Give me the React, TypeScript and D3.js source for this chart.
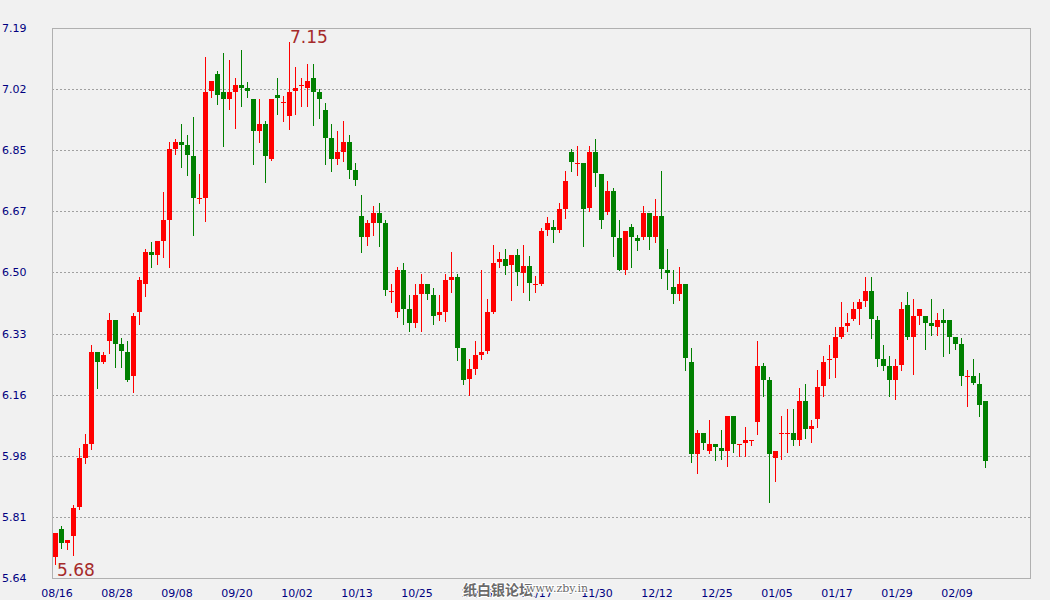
import React from "react";
import * as d3 from "d3";

// ---- data ----
const opens = [
  5.700, 5.778, 5.739, 5.759, 5.840, 5.979, 6.018, 6.277, 6.250, 6.309,
  6.367, 6.300, 6.277, 6.210, 6.390, 6.469, 6.559, 6.550, 6.591, 6.649,
  6.849, 6.869, 6.860, 6.829, 6.707, 6.711, 7.012, 7.060, 7.010, 6.990,
  7.010, 7.029, 7.021, 6.990, 6.900, 6.919, 6.821, 7.001, 6.978, 6.942,
  7.012, 7.027, 7.021, 7.049, 7.010, 6.959, 6.880, 6.821, 6.841, 6.869,
  6.790, 6.660, 6.601, 6.640, 6.669, 6.640, 6.446, 6.390, 6.508, 6.398,
  6.359, 6.440, 6.469, 6.438, 6.381, 6.390, 6.480, 6.488, 6.288, 6.201,
  6.229, 6.268, 6.280, 6.390, 6.530, 6.539, 6.522, 6.550, 6.500, 6.519,
  6.467, 6.469, 6.621, 6.629, 6.621, 6.680, 6.841, 6.807, 6.810, 6.683,
  6.841, 6.779, 6.671, 6.731, 6.598, 6.508, 6.629, 6.598, 6.601, 6.669,
  6.601, 6.660, 6.508, 6.460, 6.440, 6.469, 6.249, 5.989, 6.049, 5.998,
  6.018, 6.006, 5.998, 6.097, 6.015, 6.020, 6.027, 6.080, 6.237, 6.198,
  5.978, 6.046, 6.046, 6.049, 6.029, 6.139, 6.060, 6.088, 6.181, 6.255,
  6.260, 6.319, 6.350, 6.370, 6.398, 6.421, 6.449, 6.367, 6.257, 6.237,
  6.198, 6.240, 6.409, 6.319, 6.378, 6.378, 6.359, 6.347, 6.367, 6.367,
  6.319, 6.300, 6.207, 6.209, 6.187, 6.139,
];
const highs = [
  5.767, 5.787, 5.747, 5.846, 6.006, 6.046, 6.297, 6.277, 6.277, 6.387,
  6.367, 6.316, 6.308, 6.387, 6.488, 6.567, 6.587, 6.590, 6.728, 6.869,
  6.878, 6.919, 6.889, 6.939, 6.779, 7.108, 7.041, 7.069, 7.120, 7.100,
  7.049, 7.128, 7.038, 6.990, 6.990, 6.928, 6.990, 7.049, 6.998, 7.150,
  7.080, 7.049, 7.089, 7.089, 7.018, 6.979, 6.919, 6.900, 6.928, 6.889,
  6.810, 6.719, 6.649, 6.688, 6.697, 6.649, 6.469, 6.516, 6.528, 6.438,
  6.469, 6.497, 6.469, 6.457, 6.438, 6.497, 6.559, 6.497, 6.288, 6.257,
  6.308, 6.508, 6.426, 6.578, 6.559, 6.567, 6.550, 6.567, 6.578, 6.547,
  6.491, 6.626, 6.657, 6.649, 6.697, 6.787, 6.849, 6.857, 6.810, 6.857,
  6.877, 6.779, 6.759, 6.739, 6.649, 6.618, 6.637, 6.607, 6.688, 6.669,
  6.708, 6.787, 6.567, 6.508, 6.516, 6.469, 6.288, 6.057, 6.049, 6.085,
  6.018, 6.057, 6.097, 6.097, 6.017, 6.066, 6.029, 6.308, 6.246, 6.206,
  5.998, 6.097, 6.116, 6.116, 6.175, 6.187, 6.085, 6.226, 6.266, 6.297,
  6.347, 6.418, 6.387, 6.418, 6.426, 6.488, 6.488, 6.378, 6.297, 6.266,
  6.257, 6.418, 6.446, 6.426, 6.398, 6.378, 6.426, 6.387, 6.398, 6.367,
  6.319, 6.316, 6.226, 6.257, 6.218, 6.139,
];
const lows = [
  5.680, 5.725, 5.723, 5.705, 5.834, 5.965, 6.004, 6.176, 6.247, 6.275,
  6.236, 6.236, 6.196, 6.165, 6.356, 6.435, 6.516, 6.525, 6.546, 6.517,
  6.835, 6.799, 6.776, 6.607, 6.698, 6.646, 6.996, 6.977, 6.858, 6.961,
  6.908, 6.969, 6.996, 6.807, 6.869, 6.756, 6.818, 6.948, 6.928, 6.905,
  6.948, 6.969, 6.969, 6.917, 6.936, 6.807, 6.787, 6.807, 6.815, 6.767,
  6.748, 6.559, 6.578, 6.607, 6.576, 6.438, 6.418, 6.376, 6.356, 6.336,
  6.347, 6.336, 6.426, 6.356, 6.367, 6.364, 6.446, 6.254, 6.187, 6.156,
  6.215, 6.257, 6.274, 6.387, 6.516, 6.497, 6.423, 6.466, 6.446, 6.423,
  6.446, 6.466, 6.607, 6.587, 6.615, 6.654, 6.787, 6.776, 6.576, 6.674,
  6.745, 6.626, 6.666, 6.547, 6.508, 6.497, 6.516, 6.564, 6.595, 6.567,
  6.587, 6.485, 6.454, 6.415, 6.423, 6.226, 5.967, 5.936, 6.004, 5.992,
  5.973, 5.975, 5.956, 5.995, 5.984, 5.984, 6.015, 6.046, 6.153, 5.854,
  5.913, 5.975, 5.995, 6.015, 6.015, 6.035, 6.023, 6.066, 6.153, 6.204,
  6.206, 6.316, 6.336, 6.367, 6.356, 6.407, 6.316, 6.237, 6.226, 6.153,
  6.145, 6.226, 6.314, 6.215, 6.356, 6.285, 6.325, 6.325, 6.266, 6.274,
  6.285, 6.184, 6.125, 6.187, 6.097, 5.953,
];
const closes = [
  5.767, 5.739, 5.747, 5.837, 5.979, 6.018, 6.277, 6.250, 6.268, 6.367,
  6.300, 6.281, 6.199, 6.378, 6.480, 6.559, 6.550, 6.590, 6.649, 6.849,
  6.869, 6.860, 6.832, 6.711, 6.710, 7.010, 7.041, 7.001, 6.990, 7.010,
  7.029, 7.021, 7.012, 6.900, 6.919, 6.829, 6.990, 6.993, 6.981, 7.010,
  7.021, 7.029, 7.041, 7.010, 6.990, 6.880, 6.821, 6.841, 6.869, 6.790,
  6.762, 6.601, 6.640, 6.669, 6.640, 6.452, 6.448, 6.508, 6.398, 6.359,
  6.438, 6.469, 6.440, 6.378, 6.390, 6.480, 6.488, 6.288, 6.198, 6.229,
  6.268, 6.277, 6.390, 6.528, 6.539, 6.519, 6.550, 6.502, 6.519, 6.471,
  6.469, 6.618, 6.640, 6.621, 6.680, 6.759, 6.812, 6.809, 6.680, 6.841,
  6.781, 6.649, 6.731, 6.601, 6.508, 6.618, 6.601, 6.590, 6.669, 6.601,
  6.660, 6.511, 6.500, 6.440, 6.469, 6.260, 5.989, 6.049, 6.020, 6.018,
  6.009, 5.998, 6.097, 6.018, 6.017, 6.029, 6.029, 6.237, 6.198, 5.989,
  5.998, 6.048, 6.048, 6.029, 6.139, 6.060, 6.068, 6.178, 6.249, 6.257,
  6.319, 6.347, 6.359, 6.398, 6.418, 6.449, 6.370, 6.257, 6.237, 6.198,
  6.237, 6.398, 6.319, 6.378, 6.398, 6.359, 6.350, 6.367, 6.359, 6.319,
  6.300, 6.209, 6.209, 6.190, 6.128, 5.970,
];
// date labels, one every 10 candles starting at candle 0
const dateLabels = [
  "08/16", "08/28", "09/08", "09/20", "10/02", "10/13", "10/25", "11/06",
  "11/17", "11/30", "12/12", "12/25", "01/05", "01/17", "01/29", "02/09",
];
const labelEvery = 10;
const yMin = 5.64;
const yMax = 7.19;
const yTickCount = 10;

// ---- layout ----
const W = 1050;
const H = 600;
const plot = { left: 52, top: 28, right: 1030, bottom: 578 };

export default function App() {
  const n = closes.length;
  const x = d3.scaleLinear().domain([0, n - 1]).range([55, 55 + 6 * (n - 1)]);
  const y = d3.scaleLinear().domain([yMin, yMax]).range([plot.bottom, plot.top]);
  const yTicks = d3.range(yTickCount).map((k) => yMin + (k * (yMax - yMin)) / (yTickCount - 1));

  const maxIdx = d3.maxIndex(highs);
  const minIdx = d3.minIndex(lows);
  const font = "'DejaVu Sans', Verdana, sans-serif";

  return (
    <svg
      width={W}
      height={H}
      style={{ position: "absolute", left: 0, top: 0, display: "block", background: "#f1f1f1" }}
    >
      <rect x={0} y={0} width={W} height={H} fill="#f1f1f1" />
      {/* grid lines */}
      {yTicks.slice(1, -1).map((t, k) => (
        <line
          key={"g" + k}
          x1={plot.left}
          x2={plot.right}
          y1={Math.round(y(t)) + 0.5}
          y2={Math.round(y(t)) + 0.5}
          stroke="#a0a0a0"
          strokeDasharray="2,2"
        />
      ))}
      {/* plot border */}
      <rect
        x={plot.left + 0.5}
        y={plot.top + 0.5}
        width={plot.right - plot.left}
        height={plot.bottom - plot.top}
        fill="none"
        stroke="#b0b0b0"
      />
      {/* y labels */}
      {yTicks.map((t, k) => (
        <text
          key={"yl" + k}
          x={2}
          y={y(t) + 4}
          fontFamily={font}
          fontSize={11}
          fill="#000080"
        >
          {t.toFixed(2)}
        </text>
      ))}
      {/* x labels */}
      {dateLabels.map((lab, k) => (
        <text
          key={"xl" + k}
          x={x(k * labelEvery) + 2}
          y={597}
          fontFamily={font}
          fontSize={11}
          fill="#000080"
          textAnchor="middle"
        >
          {lab}
        </text>
      ))}
      {/* candles */}
      {closes.map((c, i) => {
        const o = opens[i];
        const up = c >= o;
        const col = up ? "#ff0000" : "#008000";
        const cx = Math.round(x(i));
        const top = Math.round(y(Math.max(o, c)));
        const bot = Math.round(y(Math.min(o, c)));
        const hgt = Math.max(1, bot - top);
        return (
          <g key={"c" + i}>
            <line
              x1={cx + 0.5}
              x2={cx + 0.5}
              y1={Math.round(y(highs[i]))}
              y2={Math.round(y(lows[i])) + 1}
              stroke={col}
              strokeWidth={1}
            />
            <rect x={cx - 2} y={top} width={5} height={hgt} fill={col} />
          </g>
        );
      })}
      {/* max / min annotations */}
      <text
        x={x(maxIdx) + 1}
        y={y(highs[maxIdx]) + 1}
        fontFamily={font}
        fontSize={17}
        fill="#a52a2a"
      >
        {highs[maxIdx].toFixed(2)}
      </text>
      <text
        x={x(minIdx) + 2}
        y={y(lows[minIdx]) + 12}
        fontFamily={font}
        fontSize={17}
        fill="#a52a2a"
      >
        {lows[minIdx].toFixed(2)}
      </text>
      {/* watermark */}
      <text
        x={463}
        y={595}
        fontFamily="'Noto Sans CJK SC', sans-serif"
        fontSize={14}
        fontWeight="bold"
        fill="#6a6a6a"
        stroke="#ffffff"
        strokeWidth={2}
        paintOrder="stroke"
      >
        纸白银论坛
      </text>
      <text
        x={526}
        y={592}
        fontFamily="'DejaVu Serif', serif"
        fontSize={11}
        fill="#6a6a6a"
        stroke="#ffffff"
        strokeWidth={2}
        paintOrder="stroke"
      >
        www.zby.in
      </text>
    </svg>
  );
}
